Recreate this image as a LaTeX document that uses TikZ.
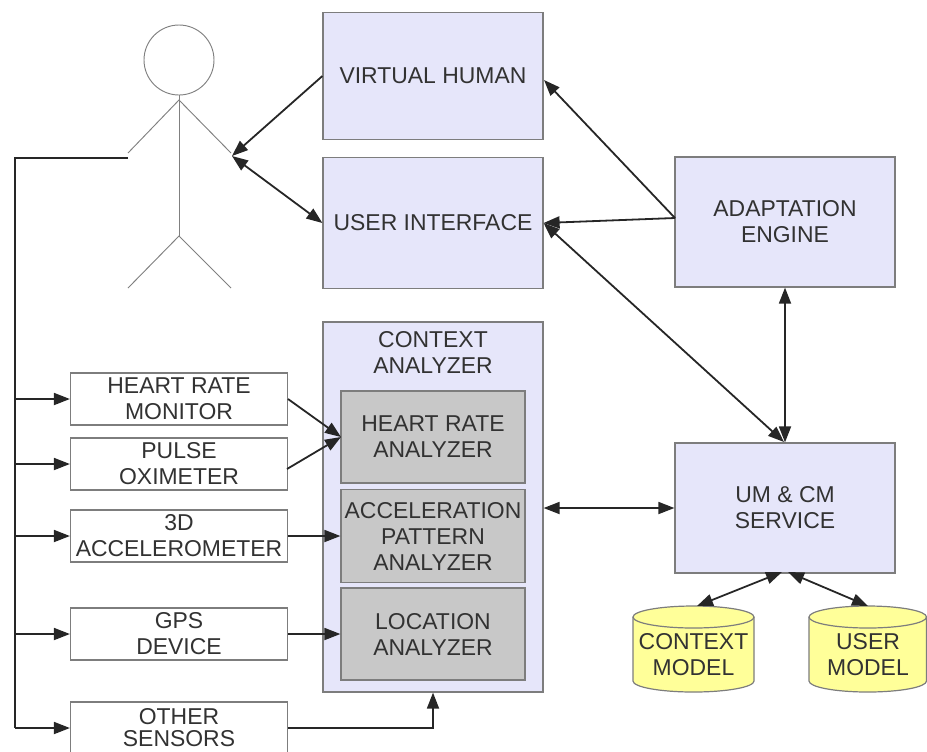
\documentclass[tikz,border=0pt]{standalone}
\usepackage{fontspec}
\setmainfont{Liberation Sans}
\usetikzlibrary{arrows.meta}
\definecolor{lav}{RGB}{230,230,250}
\definecolor{gr}{RGB}{200,200,200}
\definecolor{yel}{RGB}{255,255,153}
\definecolor{ink}{RGB}{50,50,50}
\definecolor{edge}{RGB}{125,125,125}
\tikzset{x=0.75pt,y=-0.75pt,
 lbl/.style={align=center,text=ink,font=\fontsize{17.2}{19.5}\selectfont,inner sep=0pt},
 box/.style={lbl,draw=edge,line width=0.9pt},
 lavbox/.style={box,fill=lav},
 graybox/.style={box,fill=gr},
 whitebox/.style={box,fill=white},
 tip/.tip={Triangle[length=12pt,width=9pt]},
 conn/.style={line width=1.35pt,black!85,-{tip}},
 bi/.style={line width=1.35pt,black!85,{tip}-{tip}},
 plain/.style={line width=1.35pt,black!85},
 fig/.style={draw=black!50,line width=0.7pt},
 cylbody/.style={draw=edge,fill=yel,line width=0.9pt}}
\newcommand{\bx}[6]{\node[#1,minimum width=#4*0.75pt,minimum height=#5*0.75pt] (#2) at (#3) {#6};}
% left, top, right, bottom, half width in pt
\newcommand{\cylshape}[5]{%
 \draw[cylbody] (#1,#2+11) arc[start angle=180,end angle=0,x radius=#5pt,y radius=8.25pt] -- (#3,#4-11) arc[start angle=360,end angle=180,x radius=#5pt,y radius=8.25pt] -- cycle;
 \draw[cylbody,fill=none] (#1,#2+11) arc[start angle=180,end angle=360,x radius=#5pt,y radius=8.25pt];}
\begin{document}
\begin{tikzpicture}
\useasboundingbox (0,0) rectangle (927,751);
\bx{lavbox}{vh}{433,76}{220}{127}{VIRTUAL HUMAN}
\bx{lavbox}{ui}{433,223}{220}{131}{USER INTERFACE}
\bx{lavbox}{ae}{785,222}{220}{130}{ADAPTATION\\ENGINE}
\bx{lavbox}{um}{785,508}{220}{130}{UM \& CM\\SERVICE}
\bx{lavbox}{ca}{433,507}{220}{370}{}
\node[lbl] (catitle) at (433,352) {CONTEXT\\ANALYZER};
\bx{graybox}{hra}{433,437}{184}{92}{HEART RATE\\ANALYZER}
\bx{graybox}{apa}{433,536}{184}{93}{ACCELERATION\\PATTERN\\ANALYZER}
\bx{graybox}{la}{433,634}{184}{92}{LOCATION\\ANALYZER}
\bx{whitebox}{hrm}{179,399}{217}{52}{HEART RATE\\MONITOR}
\bx{whitebox}{po}{179,464}{217}{52}{PULSE\\OXIMETER}
\bx{whitebox}{acc}{179,536}{217}{52}{3D\\ACCELEROMETER}
\bx{whitebox}{gps}{179,634}{217}{52}{GPS\\DEVICE}
\bx{whitebox}{os}{179,728}{217}{52}{OTHER\\[-3pt]SENSORS}
\cylshape{633}{606}{754}{692}{45.375}
\cylshape{809}{606}{926.5}{692}{44.06}
\node[lbl] (cm) at (693.5,655) {CONTEXT\\MODEL};
\node[lbl] (umd) at (868,655) {USER\\MODEL};
\coordinate (cmtop) at (697,606);
\coordinate (umdtop) at (868,606);
% stick figure
\node[circle,fig,minimum size=70*0.75pt,inner sep=0pt] (head) at (179,60) {};
\coordinate (hip) at (179,236);
\coordinate (la1) at (128,153);
\coordinate (ra1) at (231,153);
\coordinate (sh) at (179,100);
\coordinate (lf) at (128,288);
\coordinate (rf) at (231,288);
\draw[fig] (head.south) -- (hip);
\draw[fig] (la1) -- (sh) -- (ra1);
\draw[fig] (lf) -- (hip) -- (rf);
% connectors
\coordinate (user) at (232,156);
\coordinate (bus) at (15,158);
\coordinate (vhin) at (544,80);
\coordinate (aeout) at (675,218);
\coordinate (umtop) at (784,442);
\coordinate (umbot) at (785,573);
\coordinate (hrain) at (341,437);
\draw[conn] (vh.west) -- (user);
\draw[bi] (user) -- (ui.west);
\draw[conn] (aeout) -- (vhin);
\draw[conn] (aeout) -- (ui.east);
\draw[bi] (ui.east) -- (umtop);
\draw[bi] (ae.south) -- (um.north);
\draw[bi] (ca.east |- um.west) -- (um.west);
\draw[bi] (cmtop) -- (782,572);
\draw[bi] (umdtop) -- (788,572);
\draw[plain] (128,158) -- (bus) -- (15,728);
\foreach \n in {hrm,po,acc,gps,os}{\draw[conn] (bus |- \n.west) -- (\n.west);}
\coordinate (hrmout) at (288,399);
\coordinate (poout) at (287,469);
\draw[conn] (hrmout) -- (hrain);
\draw[conn] (poout) -- (hrain);
\draw[conn] (acc.east) -- (apa.west);
\draw[conn] (gps.east) -- (la.west);
\draw[conn] (os.east) -- (ca.south |- os.east) -- (ca.south);
\end{tikzpicture}
\end{document}
